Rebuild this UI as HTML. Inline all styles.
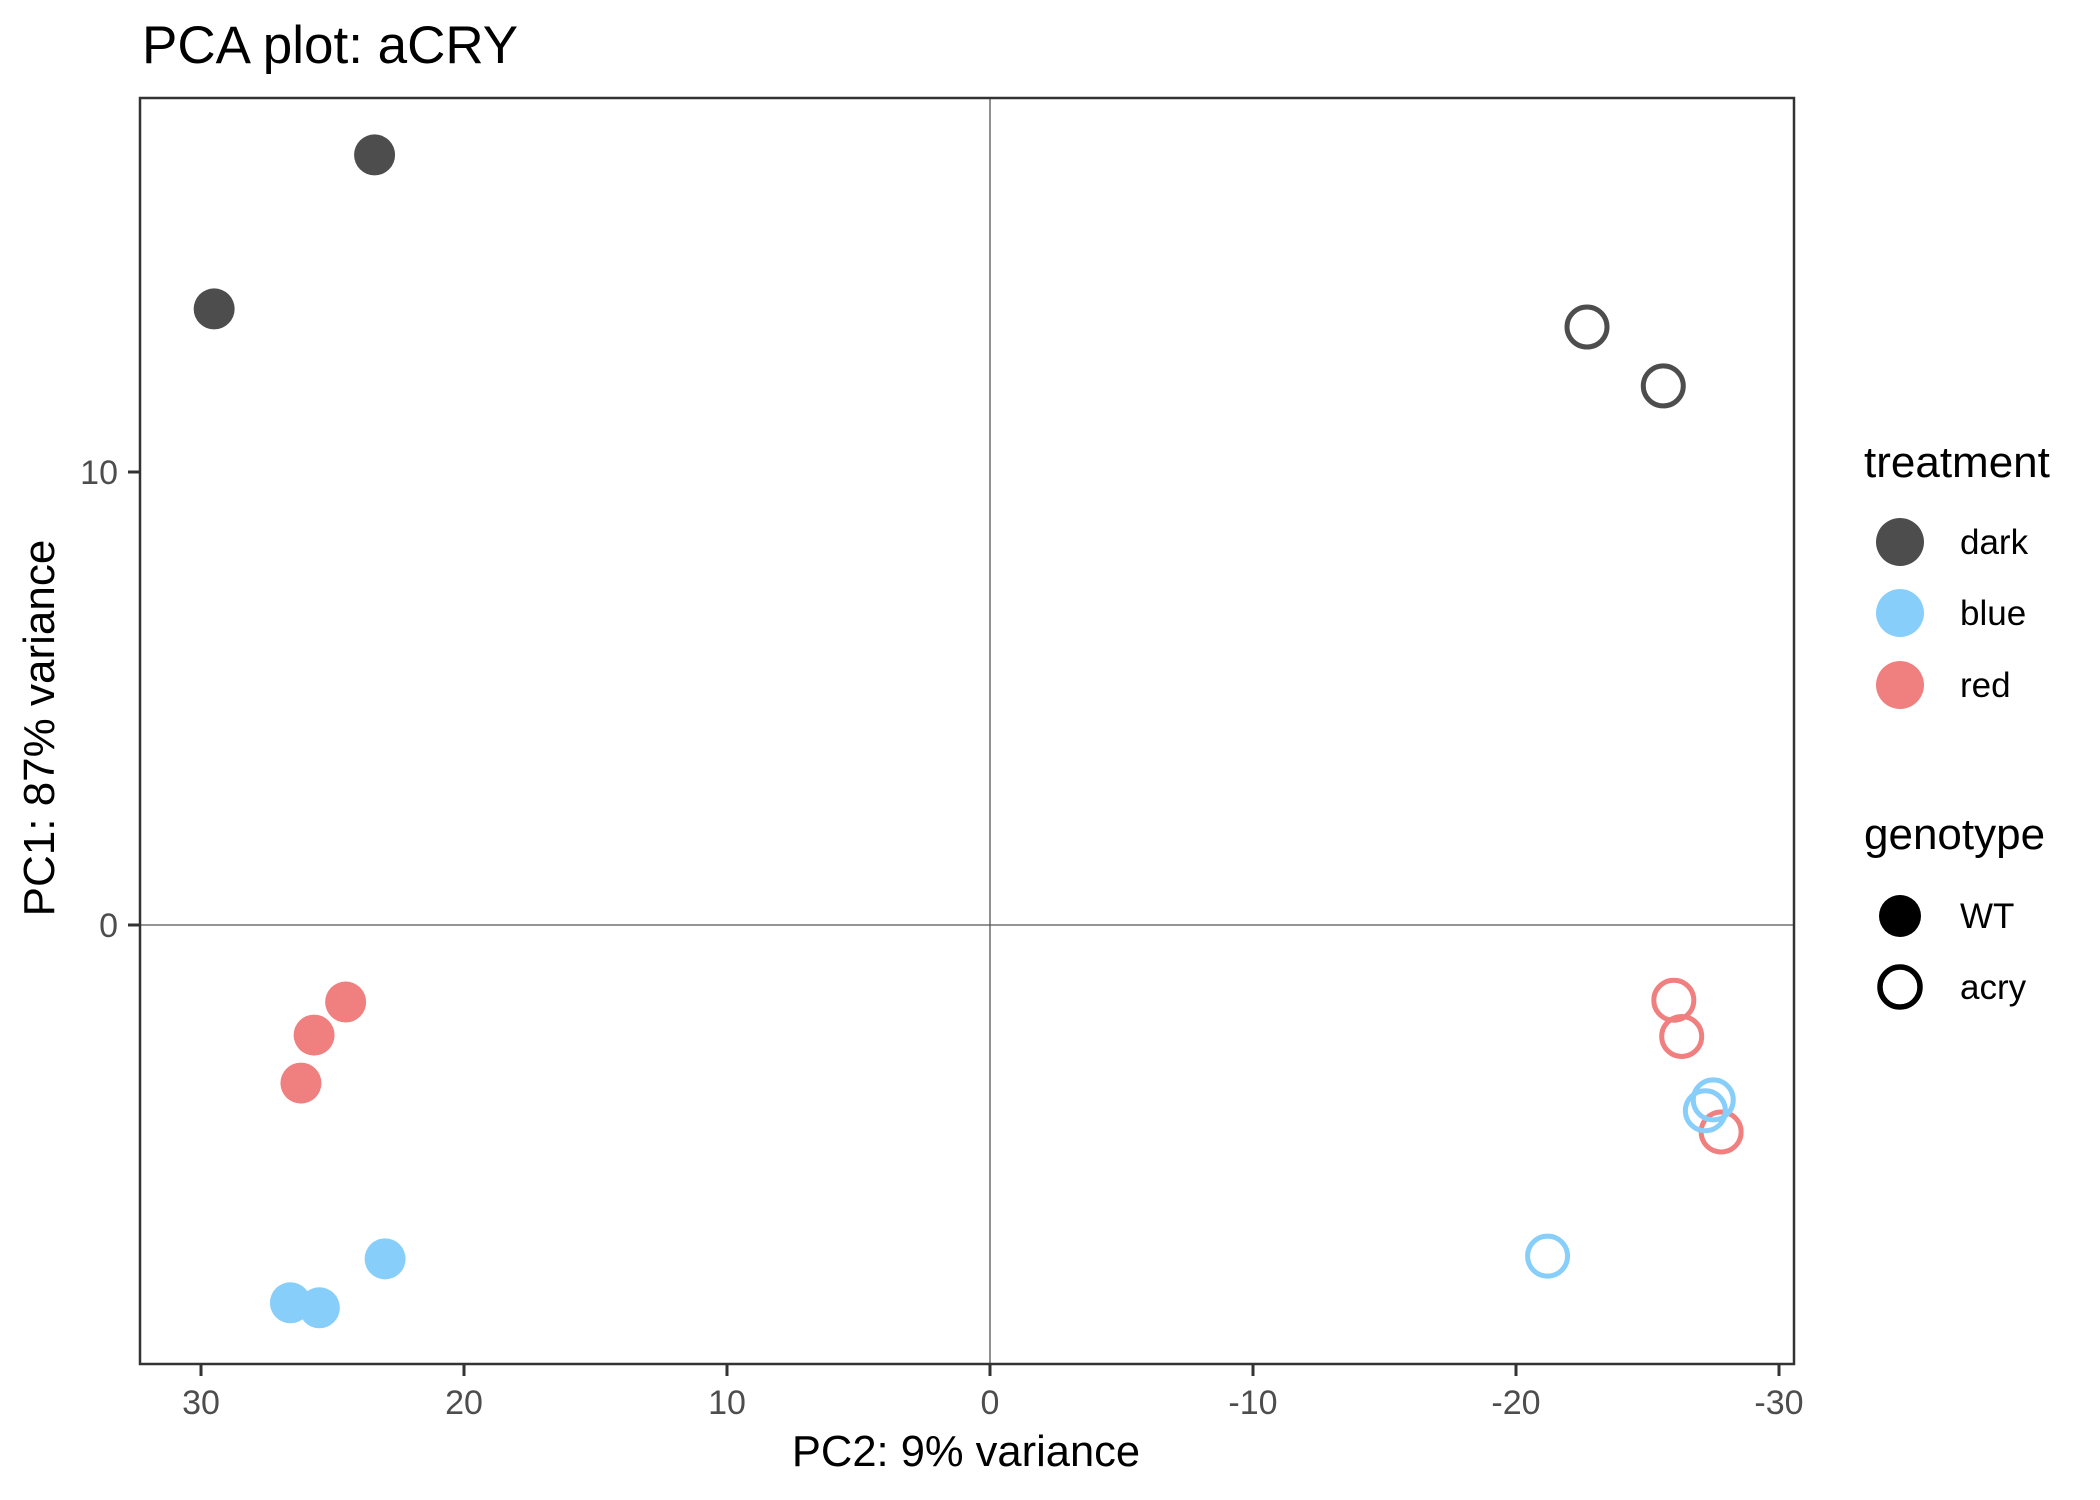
<!DOCTYPE html>
<html><head><meta charset="utf-8">
<style>
html,body{margin:0;padding:0;background:#fff;}
svg{display:block;font-family:"Liberation Sans",Arial,sans-serif;}
</style></head>
<body>
<svg id="chart" width="2100" height="1500" viewBox="0 0 2100 1500" xmlns="http://www.w3.org/2000/svg">
<rect x="0" y="0" width="2100" height="1500" fill="#fff"/>
<text x="142" y="63" font-size="53" fill="#000">PCA plot: aCRY</text>
<g id="plot"></g>
<text x="966" y="1466" font-size="43.5" text-anchor="middle" fill="#000">PC2: 9% variance</text>
<text transform="translate(54,728) rotate(-90)" font-size="44" text-anchor="middle" fill="#000">PC1: 87% variance</text>
<g id="legend"></g>
</svg>
<script>
const pc2WT = [23.4, 29.5, 24.5, 25.7, 26.2, 23.0, 26.6, 25.5];
const pc1WT = [17.0, 13.6, -1.70, -2.43, -3.49, -7.37, -8.34, -8.45];
const treatWT = ["dark","dark","red","red","red","blue","blue","blue"];
const pc2Acry = [-22.7, -25.6, -26.0, -26.3, -27.8, -27.5, -27.2, -21.2];
const pc1Acry = [13.2, 11.9, -1.66, -2.46, -4.57, -3.86, -4.10, -7.31];
const treatAcry = ["dark","dark","red","red","red","blue","blue","blue"];
const xTicks = [30, 20, 10, 0, -10, -20, -30];
const xTickLabels = ["30","20","10","0","-10","-20","-30"];
const yTicks = [10, 0];
const yTickLabels = ["10","0"];
const treatments = ["dark","blue","red"];
const genotypes = ["WT","acry"];

const colors = {dark:"#4d4d4d", blue:"#87cefa", red:"#f08080"};
const NS = "http://www.w3.org/2000/svg";
const PL = 140, PR = 1794, PT = 98, PB = 1364;
function xs(v){ return 990 - v * 26.3; }
function ys(v){ return 925 - v * 45.3; }
function mk(tag, attrs, parent){
  const e = document.createElementNS(NS, tag);
  for (const k in attrs) e.setAttribute(k, attrs[k]);
  parent.appendChild(e);
  return e;
}
const plot = document.getElementById('plot');
const hz = mk('line', {x1:PL, x2:PR, y1:ys(0), y2:ys(0), stroke:'#555', 'stroke-width':1.3}, plot);


const vz = mk('line', {x1:xs(0), x2:xs(0), y1:PT, y2:PB, stroke:'#555', 'stroke-width':1.3}, plot);


for (let i = 0; i < pc2WT.length; i++) {
  const c = mk('circle', {cx:xs(pc2WT[i]), cy:ys(pc1WT[i]), r:20.5, fill:colors[treatWT[i]]}, plot);
  
  
}
for (let i = 0; i < pc2Acry.length; i++) {
  const c = mk('circle', {cx:xs(pc2Acry[i]), cy:ys(pc1Acry[i]), r:20, fill:'none', stroke:colors[treatAcry[i]], 'stroke-width':5}, plot);
  
  
}
const border = mk('rect', {x:PL, y:PT, width:PR-PL, height:PB-PT, fill:'none', stroke:'#333', 'stroke-width':2.5}, plot);


for (let i = 0; i < xTicks.length; i++) {
  const x = xs(xTicks[i]);
  const t = mk('line', {x1:x, x2:x, y1:PB, y2:PB+12, stroke:'#333', 'stroke-width':3}, plot);
  
  
  const l = mk('text', {x:x, y:1414, 'font-size':34, 'text-anchor':'middle', fill:'#4d4d4d'}, plot);
  l.textContent = xTickLabels[i];
  
  
}
for (let i = 0; i < yTicks.length; i++) {
  const y = ys(yTicks[i]);
  const t = mk('line', {x1:PL-12, x2:PL, y1:y, y2:y, stroke:'#333', 'stroke-width':3}, plot);
  
  
  const l = mk('text', {x:118, y:y+12, 'font-size':34, 'text-anchor':'end', fill:'#4d4d4d'}, plot);
  l.textContent = yTickLabels[i];
  
  
}
const lg = document.getElementById('legend');
const t1 = mk('text', {x:1864, y:477, 'font-size':44, fill:'#000'}, lg);
t1.textContent = 'treatment';


const tY = [542, 613, 685];
for (let i = 0; i < treatments.length; i++) {
  const c = mk('circle', {cx:1900, cy:tY[i], r:24, fill:colors[treatments[i]]}, lg);
  
  
  const l = mk('text', {x:1960, y:tY[i]+12, 'font-size':35, fill:'#000'}, lg);
  l.textContent = treatments[i];
  
  
}
const t2 = mk('text', {x:1864, y:849, 'font-size':44, fill:'#000'}, lg);
t2.textContent = 'genotype';


const gY = [916, 987];
for (let i = 0; i < genotypes.length; i++) {
  const attrs = i === 0 ? {cx:1900, cy:gY[i], r:21, fill:'#000'} : {cx:1900, cy:gY[i], r:20, fill:'none', stroke:'#000', 'stroke-width':5.5};
  const c = mk('circle', attrs, lg);
  
  
  const l = mk('text', {x:1960, y:gY[i]+12, 'font-size':35, fill:'#000'}, lg);
  l.textContent = genotypes[i];
  
  
}
</script>
</body></html>
